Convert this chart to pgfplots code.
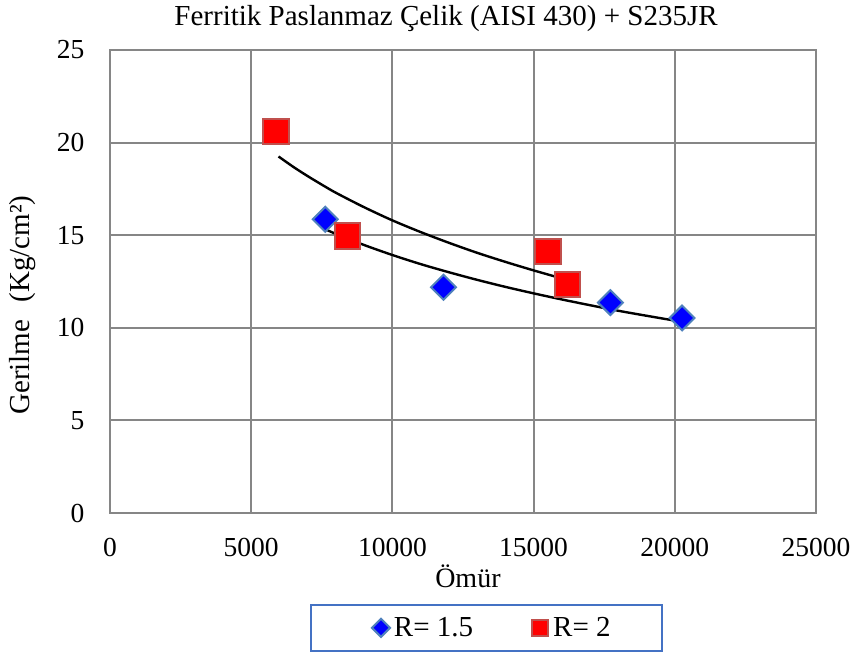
\documentclass[border=0pt]{standalone}
\usepackage{fontspec}
\setmainfont{Liberation Serif}
\usepackage{pgfplots}
\pgfplotsset{compat=1.18}
\definecolor{gridgray}{RGB}{134,134,134}
\definecolor{legblue}{RGB}{68,114,196}
\definecolor{diaedge}{RGB}{79,129,189}
\definecolor{sqedge}{RGB}{192,80,77}
\pgfplotsset{
  legdia/.style={legend image code/.code={\path (-50bp,0bp) (10bp,0bp); \draw[##1, only marks, mark size=6.4bp] plot coordinates {(0bp,0bp)};}},
  legsq/.style={legend image code/.code={\path (-50bp,0bp) (10bp,0bp); \draw[##1, only marks, mark size=8bp] plot coordinates {(0bp,0bp)};}},
}
\begin{document}
\begin{tikzpicture}
\path[use as bounding box] (-110bp,-140bp) rectangle (748bp,513bp);
\begin{axis}[
  at={(0,0)}, anchor=south west,
  scale only axis, width=706bp, height=463bp,
  xmin=0, xmax=25000, ymin=0, ymax=25,
  xtick={0,5000,10000,15000,20000,25000},
  ytick={0,5,10,15,20,25},
  scaled x ticks=false,
  /pgf/number format/assume math mode=true,
  /pgf/number format/1000 sep={},
  grid=major,
  major grid style={gridgray, line width=2bp},
  axis line style={gridgray, line width=2bp},
  major tick length=0pt,
  tick style={draw=none},
  ticklabel style={font=\fontsize{27.5bp}{30bp}\selectfont},
  xticklabel style={anchor=north, yshift=-22bp},
  yticklabel style={anchor=east, xshift=-22bp},
  title={Ferritik Paslanmaz Çelik (AISI 430) + S235JR},
  title style={font=\fontsize{29bp}{32bp}\selectfont, at={(axis description cs:0.476,1)}, anchor=base, yshift=19bp},
  xlabel={Ömür},
  xlabel style={font=\fontsize{28bp}{31bp}\selectfont, at={(axis description cs:0.507,0)}, anchor=base, yshift=-74bp},
  ylabel={Gerilme\hspace{0.6em}(Kg/cm²)},
  ylabel style={font=\fontsize{29bp}{32bp}\selectfont, at={(axis description cs:-0.1232,0.449)}, anchor=center},
  legend columns=2,
  legend style={at={(axis description cs:0.2833,-0.1965)}, anchor=north west,
    draw=legblue, line width=2bp, inner xsep=19bp, inner ysep=10.5bp,
    font=\fontsize{29bp}{32bp}\selectfont},
  /tikz/every even column/.append style={column sep=14bp},
  clip=false,
]
\addplot[only marks, mark=square*, mark size=8.8bp,
  mark options={rotate=45, fill=blue, draw=diaedge, line width=2bp}, legdia]
  coordinates {(7624,15.86) (11809,12.19) (17720,11.36) (20259,10.53)};
\addlegendentry{R= 1.5}
\addplot[only marks, mark=square*, mark size=12.8bp,
  mark options={fill=red, draw=sqedge, line width=2bp}, legsq]
  coordinates {(5887,20.61) (8404,14.97) (15507,14.13) (16206,12.33)};
\addlegendentry{R= 2\hspace*{30bp}\null}
\addplot[black, line width=2.4bp, smooth, forget plot]
  coordinates {(7624,15.32) (8000,15.07) (9000,14.47) (10000,13.93) (11000,13.44) (12000,13.00) (13000,12.59) (14000,12.21) (15000,11.86) (16000,11.53) (17000,11.22) (18000,10.92) (19000,10.65) (20300,10.31)};
\addplot[black, line width=2.4bp, smooth, forget plot]
  coordinates {(5968,19.25) (6500,18.68) (7000,18.19) (7500,17.73) (8000,17.29) (9000,16.51) (10000,15.80) (11000,15.17) (12000,14.59) (13000,14.05) (14000,13.56) (15000,13.10) (16312,12.53)};
\end{axis}
\end{tikzpicture}
\end{document}
